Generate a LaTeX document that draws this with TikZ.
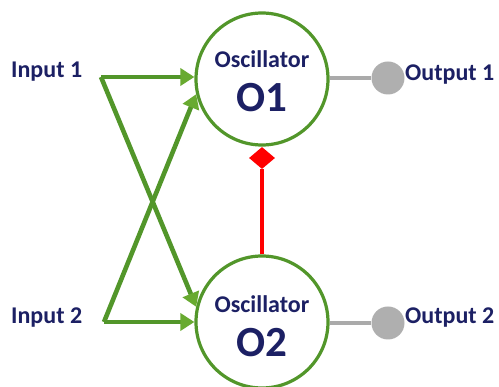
\documentclass[tikz,border=0pt]{standalone}
\usepackage{fontspec}
\setmainfont{Carlito}
\usetikzlibrary{arrows.meta,shapes.geometric}
\definecolor{navy}{RGB}{28,32,100}
\definecolor{ograin}{RGB}{82,150,42}
\definecolor{ahead}{RGB}{104,170,48}
\definecolor{gline}{RGB}{170,170,170}
\definecolor{gdot}{RGB}{175,175,175}
\tikzset{
  osc/.style={circle,draw=ograin,line width=3.2pt,fill=white,minimum size=132pt,inner sep=0pt},
  lbl/.style={font=\bfseries\fontsize{24}{27}\selectfont,text=navy,inner sep=0pt},
  big/.style={font=\bfseries\fontsize{43}{46}\selectfont,text=navy,inner sep=0pt},
  gin/.style={draw=ograin,line width=4.6pt,line join=miter,-{Triangle[length=14pt,width=17pt,color=ahead]}},
  gout/.style={draw=gline,line width=4.6pt},
  odot/.style={circle,fill=gdot,minimum size=33pt,inner sep=0pt},
  cpl/.style={draw=red,line width=3.6pt},
  dia/.style={diamond,fill=red,minimum width=26pt,minimum height=22pt,inner sep=0pt}
}
\begin{document}
\begin{tikzpicture}[x=1pt,y=-1pt]
\useasboundingbox[fill=white] (0,0) rectangle (499,387);
% oscillators
\node[osc] (o1) at (262,79) {};
\node[osc] (o2) at (262,322) {};
\node[lbl] (o1t) at (262,59) {Oscillator};
\node[big] (o1n) at (262,98) {O1};
\node[lbl] (o2t) at (262,304) {Oscillator};
\node[big] (o2n) at (262,343) {O2};
% coupling
\node[dia] (d) at (262,158) {};
\draw[cpl] (o2.north) -- (d.south);
% inputs
\node[lbl,anchor=west] (in1) at (11,72) {Input 1};
\node[lbl,anchor=west] (in2) at (11,318) {Input 2};
\coordinate (c1) at (101,77);
\coordinate (c2) at (104,322);
\draw[gin] (c1) -- (o1.west |- c1);
\draw[gin] (c1) -- (o2.167);
\draw[gin] (c2) -- (o1.193);
\draw[gin] (c2) -- (o2.west);
% outputs
\node[odot] (p1) at (388,78) {};
\node[odot] (p2) at (388,323) {};
\draw[gout] (o1.east |- p1) -- (p1);
\draw[gout] (o2.east |- p2) -- (p2);
\node[lbl,anchor=west] (out1) at (405,75) {Output 1};
\node[lbl,anchor=west] (out2) at (405,318) {Output 2};
\end{tikzpicture}
\end{document}
